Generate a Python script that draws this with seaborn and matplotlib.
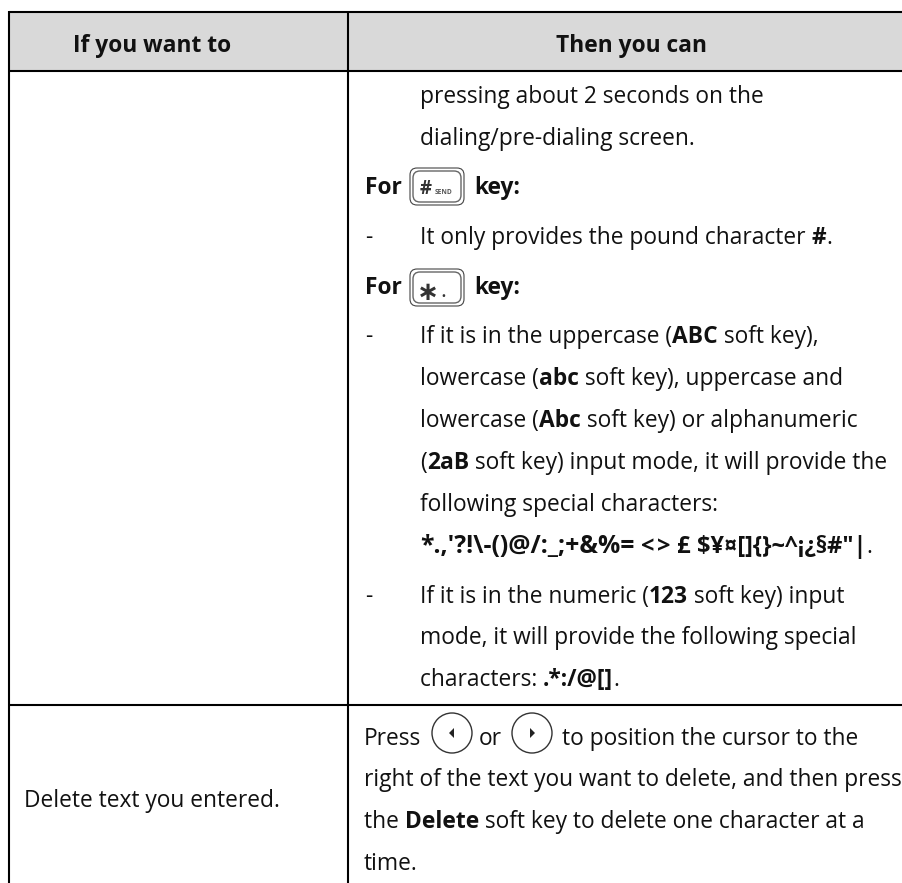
import matplotlib
matplotlib.use("Agg")
import matplotlib.pyplot as plt
from matplotlib.patches import FancyBboxPatch, Circle, Polygon
import numpy as np
import seaborn as sns

W, H = 903, 883
FONT = "Open Sans"
SIZE = 16.35

header_labels = ["If you want to", "Then you can"]
delete_label = "Delete text you entered."

# text of each run of the right column; **...** marks bold
body_text = [
    "pressing about 2 seconds on the",
    "dialing/pre-dialing screen.",
    "**For**",
    "**key:**",
    "-",
    "It only provides the pound character **#**.",
    "**For**",
    "**key:**",
    "-",
    "If it is in the uppercase (**ABC** soft key),",
    "lowercase (**abc** soft key), uppercase and",
    "lowercase (**Abc** soft key) or alphanumeric",
    "(**2aB** soft key) input mode, it will provide the",
    "following special characters:",
    "-",
    "If it is in the numeric (**123** soft key) input",
    "mode, it will provide the following special",
    "characters: **.*:/@[]**.",
    "Press",
    "or",
    "to position the cursor to the",
    "right of the text you want to delete, and then press",
    "the **Delete** soft key to delete one character at a",
    "time.",
]
special_text = ["*.,'?!\\-()@/:_;+&%=", "<", ">", "£", "$¥¤[]{}~^¡¿§#\"|"]
special_end = "."

line_x = [420, 420, 365, 474, 365, 420, 365, 474, 365, 420, 420, 420, 420, 420,
          365, 420, 420, 420, 364, 479, 562, 364, 364, 364]
line_y = [103, 145, 194, 194, 244, 244, 294, 294, 343, 343, 385, 427, 469, 511,
          603, 603, 644, 686, 745, 745, 745, 786, 828, 870]
special_x = [420, 641, 657, 677, 697]
special_size = [17.8, 17.0, 17.0, 17.0, 17.0]
special_y = 553

sns.set_theme(style="white")
plt.rcParams["font.family"] = [FONT, "Noto Sans", "DejaVu Sans"]

fig = plt.figure(figsize=(W / 100, H / 100), dpi=100, facecolor="white")
ax = fig.add_axes([0, 0, 1, 1])
ax.set_xlim(0, W)
ax.set_ylim(H, 0)
ax.axis("off")

# header band drawn as a seaborn heatmap inside its own axes
hax = fig.add_axes([9 / W, 1 - 71 / H, (W - 9) / W, (71 - 12) / H], zorder=0)
sns.heatmap(np.array([[0.0]]), ax=hax, cmap=["#d9d9d9"], cbar=False,
            xticklabels=False, yticklabels=False)
ax.set_zorder(1)
ax.patch.set_alpha(0)

LINE = "#000000"
for y in (12, 71, 705):
    ax.plot([9, W], [y, y], color=LINE, lw=1.5, solid_capstyle="butt")
for x in (9, 348.5):
    ax.plot([x, x], [11, H], color=LINE, lw=1.5, solid_capstyle="butt")

INK = "#111111"
ax.text(152, 52, header_labels[0], ha="center", va="baseline", fontsize=SIZE, fontweight="bold", color=INK)
ax.text(632, 52, header_labels[1], ha="center", va="baseline", fontsize=SIZE, fontweight="bold", color=INK)
ax.text(24, 807, delete_label, fontsize=SIZE, va="baseline", color=INK)

r = fig.canvas.get_renderer()

def draw_run(x, y, s, bold, size=SIZE):
    t = ax.text(x, y, s, fontsize=size, va="baseline", color=INK,
                fontweight="bold" if bold else "normal")
    w, _, _ = r.get_text_width_height_descent(s.replace(" ", "\u00a0"), t.get_fontproperties(), False)
    return x + w

for x, y, s in zip(line_x, line_y, body_text):
    for i, part in enumerate(s.split("**")):
        if part:
            x = draw_run(x, y, part, i % 2 == 1)

end = 0
for x, s, size in zip(special_x, special_text, special_size):
    end = draw_run(x, special_y, s, True, size)
draw_run(end, special_y, special_end, False)

def key(y0, y1):
    for pad, col, lw in ((0, "#444444", 0.8), (3, "#666666", 1.0)):
        ax.add_patch(FancyBboxPatch((410 + pad + 5, y0 + pad + 5), 54 - 2 * pad - 10, y1 - y0 - 2 * pad - 10,
                                    boxstyle="round,pad=5,rounding_size=7", fc="none", ec=col, lw=lw))

key(168, 205)
ax.text(426, 194, "#", ha="center", va="baseline", fontsize=13.5, fontweight="bold", color="#333333")
ax.text(444, 194, "SEND", ha="center", va="baseline", fontsize=4.8, color="#555555", fontweight="bold")
key(269, 306)
ax.text(428, 290, "∗", ha="center", va="center_baseline", fontsize=19, fontweight="bold", color="#333333",
        family="DejaVu Sans")
ax.text(443, 297, ".", ha="center", va="baseline", fontsize=16, color="#333333")

for cx, d in ((452, -1), (532, 1)):
    ax.add_patch(Circle((cx, 733), 20, fc="none", ec="#333333", lw=1.0))
    ax.add_patch(Polygon([(cx + d * 3, 733), (cx - d * 2, 728), (cx - d * 2, 738)], fc="#222222", ec="none"))

fig.savefig("out.png", dpi=100)
